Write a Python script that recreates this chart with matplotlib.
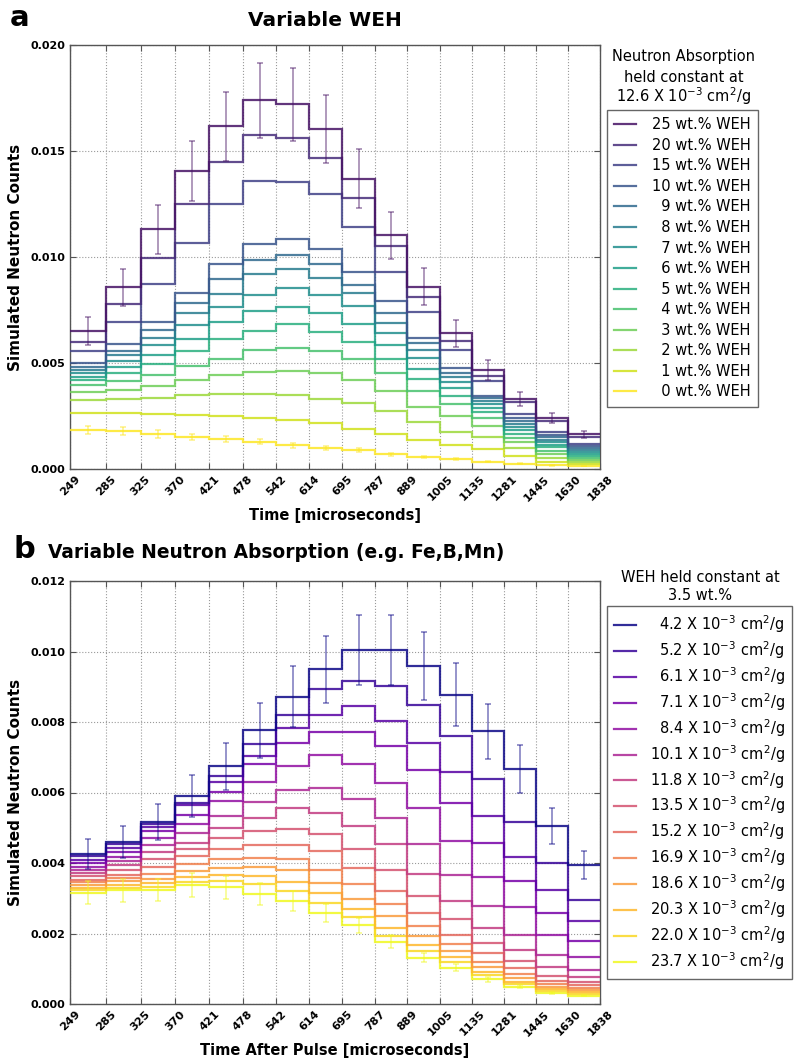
import numpy as np
import matplotlib
matplotlib.use("Agg")
import matplotlib.pyplot as plt
from matplotlib.lines import Line2D

# ---------------- data ----------------
edges = [249, 285, 325, 370, 421, 478, 542, 614, 695, 787, 889, 1005, 1135, 1281, 1445, 1630, 1838]
tick_labels = ["249", "285", "325", "370", "421", "478", "542", "614", "695", "787",
               "889", "1005", "1135", "1281", "1445", "1630", "1838"]

# Panel a: counts (x 1e-3) for each WEH content
weh_labels = ["25", "20", "15", "10", "9", "8", "7", "6", "5", "4", "3", "2", "1", "0"]
w25 = [6.50, 8.57, 11.30, 14.07, 16.17, 17.40, 17.20, 16.03, 13.70, 11.02, 8.60, 6.40, 4.67, 3.31, 2.42, 1.64]
w20 = [5.98, 7.77, 9.96, 12.51, 14.47, 15.75, 15.62, 14.66, 12.79, 10.51, 8.10, 6.02, 4.40, 3.18, 2.28, 1.50]
w15 = [5.58, 6.92, 8.73, 10.65, 12.51, 13.58, 13.55, 12.98, 11.40, 9.30, 7.42, 5.61, 4.14, 2.60, 1.73, 1.18]
w10 = [4.98, 5.89, 6.92, 8.32, 9.65, 10.60, 10.83, 10.38, 9.29, 7.93, 6.20, 4.78, 3.46, 2.40, 1.60, 1.10]
w9 = [4.83, 5.58, 6.54, 7.85, 8.98, 9.86, 10.09, 9.65, 8.70, 7.38, 5.93, 4.55, 3.33, 2.28, 1.49, 1.01]
w8 = [4.68, 5.36, 6.20, 7.34, 8.26, 9.20, 9.42, 9.01, 8.28, 6.91, 5.61, 4.35, 3.20, 2.14, 1.38, 0.91]
w7 = [4.52, 5.11, 5.85, 6.78, 7.63, 8.23, 8.54, 8.19, 7.67, 6.43, 5.25, 4.10, 3.05, 1.99, 1.26, 0.82]
w6 = [4.36, 4.82, 5.39, 6.15, 6.93, 7.44, 7.63, 7.37, 6.86, 5.83, 4.73, 3.80, 2.88, 1.83, 1.13, 0.72]
w5 = [4.18, 4.51, 4.95, 5.55, 6.15, 6.49, 6.84, 6.46, 5.99, 5.18, 4.23, 3.45, 2.68, 1.66, 1.02, 0.63]
w4 = [3.98, 4.16, 4.44, 4.85, 5.20, 5.60, 5.70, 5.57, 5.17, 4.54, 3.69, 3.05, 2.42, 1.48, 0.86, 0.53]
w3 = [3.63, 3.75, 3.93, 4.19, 4.44, 4.58, 4.63, 4.51, 4.18, 3.70, 2.94, 2.48, 2.05, 1.28, 0.71, 0.44]
w2 = [3.24, 3.31, 3.36, 3.47, 3.53, 3.54, 3.50, 3.28, 3.12, 2.75, 2.22, 1.76, 1.50, 1.00, 0.50, 0.35]
w1 = [2.64, 2.65, 2.61, 2.55, 2.49, 2.41, 2.30, 2.15, 1.90, 1.65, 1.37, 1.13, 0.95, 0.62, 0.31, 0.24]
w0 = [1.84, 1.79, 1.65, 1.52, 1.42, 1.29, 1.12, 1.00, 0.88, 0.70, 0.56, 0.48, 0.35, 0.25, 0.17, 0.13]
err_w25 = [0.67, 0.87, 1.14, 1.42, 1.63, 1.77, 1.72, 1.60, 1.39, 1.12, 0.86, 0.64, 0.47, 0.34, 0.24, 0.17]
err_w0 = [0.19, 0.18, 0.17, 0.15, 0.14, 0.13, 0.12, 0.10, 0.09, 0.07, 0.06, 0.05, 0.04, 0.03, 0.02, 0.01]

# Panel b: counts (x 1e-3) for each neutron absorption value
abs_labels = ["4.2", "5.2", "6.1", "7.1", "8.4", "10.1", "11.8", "13.5", "15.2", "16.9",
              "18.6", "20.3", "22.0", "23.7"]
a42 = [4.25, 4.60, 5.16, 5.90, 6.74, 7.77, 8.72, 9.50, 10.04, 10.04, 9.58, 8.78, 7.74, 6.67, 5.06, 3.94]
a52 = [4.19, 4.53, 5.10, 5.70, 6.47, 7.37, 8.21, 8.93, 9.15, 9.01, 8.48, 7.60, 6.37, 5.17, 3.99, 2.94]
a61 = [4.09, 4.42, 5.03, 5.64, 6.30, 7.04, 7.83, 8.20, 8.44, 8.02, 7.40, 6.57, 5.33, 4.18, 3.22, 2.35]
a71 = [4.00, 4.30, 4.92, 5.37, 6.02, 6.81, 7.41, 7.72, 7.72, 7.33, 6.65, 5.70, 4.56, 3.50, 2.57, 1.78]
a84 = [3.90, 4.17, 4.70, 5.10, 5.75, 6.31, 6.76, 7.06, 6.82, 6.28, 5.55, 4.61, 3.61, 2.76, 1.96, 1.32]
a101 = [3.80, 4.05, 4.52, 4.85, 5.34, 5.72, 6.08, 6.14, 5.81, 5.27, 4.55, 3.65, 2.78, 1.96, 1.39, 0.96]
a118 = [3.71, 3.93, 4.30, 4.58, 5.00, 5.29, 5.57, 5.41, 5.05, 4.53, 3.70, 2.93, 2.15, 1.53, 1.06, 0.76]
a135 = [3.62, 3.80, 4.10, 4.39, 4.70, 4.91, 4.96, 4.82, 4.39, 3.80, 3.06, 2.40, 1.72, 1.23, 0.79, 0.62]
a152 = [3.53, 3.67, 3.90, 4.20, 4.40, 4.51, 4.51, 4.33, 3.87, 3.21, 2.58, 1.97, 1.44, 1.01, 0.66, 0.54]
a169 = [3.45, 3.58, 3.70, 3.96, 4.12, 4.15, 4.11, 3.80, 3.40, 2.83, 2.22, 1.70, 1.20, 0.85, 0.57, 0.46]
a186 = [3.37, 3.48, 3.54, 3.78, 3.86, 3.89, 3.80, 3.43, 2.99, 2.50, 1.92, 1.50, 1.06, 0.73, 0.49, 0.40]
a203 = [3.29, 3.38, 3.42, 3.60, 3.65, 3.62, 3.45, 3.14, 2.69, 2.17, 1.66, 1.33, 0.92, 0.63, 0.42, 0.33]
a220 = [3.22, 3.30, 3.33, 3.45, 3.48, 3.40, 3.20, 2.86, 2.47, 1.93, 1.49, 1.18, 0.82, 0.57, 0.37, 0.28]
a237 = [3.16, 3.22, 3.23, 3.38, 3.31, 3.12, 2.92, 2.59, 2.23, 1.77, 1.31, 1.03, 0.70, 0.49, 0.32, 0.24]
err_a42 = [0.43, 0.46, 0.52, 0.59, 0.67, 0.78, 0.87, 0.95, 1.00, 1.00, 0.96, 0.88, 0.78, 0.67, 0.51, 0.39]
err_a237 = [0.32, 0.32, 0.32, 0.34, 0.33, 0.31, 0.29, 0.26, 0.22, 0.18, 0.13, 0.10, 0.07, 0.05, 0.03, 0.02]

weh_series = [w25, w20, w15, w10, w9, w8, w7, w6, w5, w4, w3, w2, w1, w0]
abs_series = [a42, a52, a61, a71, a84, a101, a118, a135, a152, a169, a186, a203, a220, a237]

# ---------------- figure ----------------
W, H = 795, 1064
fig = plt.figure(figsize=(W / 100, H / 100), dpi=100)
FS = "\u2007"  # figure space, width of a digit


def fx(px):
    return px / W


def fy(py):
    return 1 - py / H


axA = fig.add_axes([fx(70), fy(469), fx(600) - fx(70), fy(45) - fy(469)])
axB = fig.add_axes([fx(70), fy(1004), fx(600) - fx(70), fy(581) - fy(1004)])

edges_arr = np.array(edges, dtype=float)
centers = np.sqrt(edges_arr[:-1] * edges_arr[1:])


def draw(ax, series, cmap, c0, err_first, err_last, ymax, ystep, xlabel):
    n = len(series)
    colors = cmap(np.linspace(c0, 1.0, n))
    for i, vals in enumerate(series):
        ax.stairs(np.array(vals) * 1e-3, edges_arr, baseline=None, color=colors[i],
                  lw=1.6, alpha=0.85, zorder=3 + (n - i) * 0.01)
    ax.errorbar(centers, np.array(series[0]) * 1e-3, yerr=np.array(err_first) * 1e-3,
                fmt="none", ecolor=colors[0], alpha=0.55, capsize=2.2, elinewidth=1.1,
                capthick=1.1, zorder=4)
    ax.errorbar(centers, np.array(series[-1]) * 1e-3, yerr=np.array(err_last) * 1e-3,
                fmt="none", ecolor=colors[-1], alpha=0.55, capsize=2.2, elinewidth=1.1,
                capthick=1.1, zorder=4)
    ax.set_xscale("log")
    ax.set_xlim(edges[0], edges[-1])
    ax.set_xticks(edges)
    ax.set_xticklabels(tick_labels, rotation=45, ha="center", fontsize=8, fontweight="bold")
    ax.minorticks_off()
    ax.set_ylim(0, ymax)
    yt = np.arange(0, ymax + ystep / 2, ystep)
    ax.set_yticks(yt)
    ax.set_yticklabels(["%.3f" % v for v in yt], fontsize=8, fontweight="bold")
    ax.tick_params(direction="in", top=True, right=True, length=4, width=0.8, color="#555555")
    ax.grid(True, linestyle=":", color="#9a9a9a", lw=0.8)
    ax.set_axisbelow(True)
    for s in ax.spines.values():
        s.set_color("#555555")
        s.set_linewidth(1.0)
    ax.set_xlabel(xlabel, fontsize=10.5, fontweight="bold", labelpad=4)
    ax.set_ylabel("Simulated Neutron Counts", fontsize=11, fontweight="bold", labelpad=5)
    return colors


colA = draw(axA, weh_series, plt.cm.viridis, 0.05, err_w25, err_w0, 0.020, 0.005,
            "Time [microseconds]")
colB = draw(axB, abs_series, plt.cm.plasma, 0.0, err_a42, err_a237, 0.012, 0.002,
            "Time After Pulse [microseconds]")

# legends
labA = [(FS if len(l) == 1 else "") + l + " wt.% WEH" for l in weh_labels]
hA = [Line2D([], [], color=c, lw=1.6, alpha=0.85) for c in colA]
fig.legend(hA, labA, loc="upper left", bbox_to_anchor=(fx(607), fy(110)), fontsize=10.5,
           fancybox=False, edgecolor="#666666", framealpha=1, handlelength=1.5,
           handletextpad=1.1, labelspacing=0.38, borderpad=0.5, borderaxespad=0)

labB = [(FS if len(l) == 3 else "") + l + r" X 10$^{-3}$ cm$^{2}$/g" for l in abs_labels]
hB = [Line2D([], [], color=c, lw=1.6, alpha=0.85) for c in colB]
fig.legend(hB, labB, loc="upper left", bbox_to_anchor=(fx(607), fy(606)), fontsize=10.5,
           fancybox=False, edgecolor="#666666", framealpha=1, handlelength=1.5,
           handletextpad=0.95, labelspacing=0.29, borderpad=0.5, borderaxespad=0)

# legend titles (outside boxes)
fig.text(fx(684), fy(57), "Neutron Absorption", ha="center", va="center", fontsize=10.5)
fig.text(fx(684), fy(77), "held constant at", ha="center", va="center", fontsize=10.5)
fig.text(fx(684), fy(96), r"12.6 X 10$^{-3}$ cm$^{2}$/g", ha="center", va="center", fontsize=10.5)
fig.text(fx(700), fy(577), "WEH held constant at", ha="center", va="center", fontsize=10.5)
fig.text(fx(700), fy(595), "3.5 wt.%", ha="center", va="center", fontsize=10.5)

# titles and panel letters
fig.text(fx(325), fy(21), "Variable WEH", ha="center", va="center", fontsize=14.5, fontweight="bold")
fig.text(fx(20), fy(18), "a", ha="center", va="center", fontsize=21, fontweight="bold")
fig.text(fx(48), fy(552), "Variable Neutron Absorption (e.g. Fe,B,Mn)", ha="left", va="center",
         fontsize=13.4, fontweight="bold")
fig.text(fx(24), fy(550), "b", ha="center", va="center", fontsize=22, fontweight="bold")

fig.savefig("out.png", dpi=100, facecolor="white")
